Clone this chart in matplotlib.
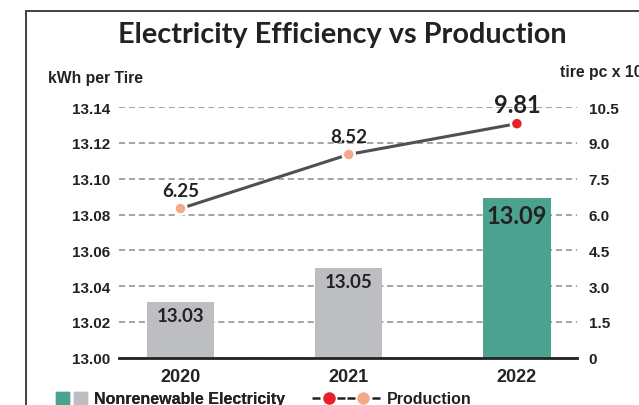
import matplotlib
matplotlib.use("Agg")
import matplotlib.pyplot as plt
from matplotlib.patches import Patch, Rectangle
from matplotlib.lines import Line2D
from matplotlib.legend_handler import HandlerTuple

# data
years = ["2020", "2021", "2022"]
electricity = [13.031, 13.050, 13.089]   # kWh per tire
production = [6.25, 8.52, 9.81]          # tire pc x 1000
bar_colors = ["#BDBEC2", "#BDBEC2", "#4BA38F"]
dot_colors = ["#F4A98A", "#F4A98A", "#E8202A"]
left_ticks = [13.00, 13.02, 13.04, 13.06, 13.08, 13.10, 13.12, 13.14]
right_ticks = [0, 1.5, 3.0, 4.5, 6.0, 7.5, 9.0, 10.5]

arial = "Liberation Sans"
calib = "Lato"
dark = "#222222"

fig = plt.figure(figsize=(6.39, 4.06), dpi=100)
ax = fig.add_axes([0.1862, 0.1165, 0.7167, 0.617])

x = list(range(len(years)))
ax.bar(x, [v - 13.0 for v in electricity], bottom=13.0, width=0.4,
       color=bar_colors, zorder=2)
ax.set_xlim(-0.366, 2.357)
ax.set_ylim(13.00, 13.14)
ax.set_yticks(left_ticks)
ax.set_yticklabels(["%.2f" % t for t in left_ticks], fontfamily=arial,
                   fontweight="bold", fontsize=11, color=dark)
ax.set_xticks(x)
ax.set_xticklabels(years, fontfamily=arial, fontweight="bold", fontsize=13,
                   color=dark)
ax.tick_params(axis="y", length=0, pad=6.5)
ax.tick_params(axis="x", length=0, pad=7.5)
ax.yaxis.grid(True, color="#8C8C8C", linestyle=(0, (4, 2.5)), linewidth=1.1)
ax.set_axisbelow(True)
for s in ["top", "right", "left"]:
    ax.spines[s].set_visible(False)
ax.spines["bottom"].set_linewidth(2.0)
ax.spines["bottom"].set_color(dark)
ax.spines["bottom"].set_zorder(5)

for i, v in enumerate(electricity):
    big = i == len(electricity) - 1
    ax.annotate("%.2f" % v, (i, v), xytext=(0, -12 if big else -9.5),
                textcoords="offset points", ha="center", va="center",
                fontfamily=calib, fontweight="bold",
                fontsize=17 if big else 13.5, color=dark, zorder=6)

ax2 = ax.twinx()
ax2.set_ylim(0, 10.5)
ax2.set_yticks(right_ticks)
ax2.set_yticklabels(["0" if t == 0 else "%.1f" % t for t in right_ticks],
                    fontfamily=arial, fontweight="bold", fontsize=11,
                    color=dark)
ax2.tick_params(axis="y", length=0, pad=8.5)
for s in ax2.spines.values():
    s.set_visible(False)
ax2.plot(x, production, color="#505050", linewidth=2.2, zorder=3)
ax2.scatter(x, production, s=75, c=dot_colors, edgecolors="white",
            linewidths=1.8, zorder=4)
for i, v in enumerate(production):
    big = i == len(production) - 1
    ax2.annotate("%.2f" % v, (i, v), xytext=(0, 14 if big else 13),
                 textcoords="offset points", ha="center", va="center",
                 fontfamily=calib, fontweight="bold",
                 fontsize=17 if big else 13.5, color=dark)

# titles and axis captions
fig.text(342 / 639, 1 - 35 / 406, "Electricity Efficiency vs Production",
         ha="center", va="center", fontfamily=calib, fontweight="bold",
         fontsize=20.8, color=dark)
fig.text(48 / 639, 1 - 78 / 406, "kWh per Tire", ha="left", va="center",
         fontfamily=arial, fontweight="bold", fontsize=11.3, color=dark)
fig.text(560 / 639, 1 - 73 / 406, "tire pc x 1000", ha="left", va="center",
         fontfamily=arial, fontweight="bold", fontsize=11.3, color=dark)

# outer frame
fig.patches.append(Rectangle((26 / 639, -0.1), 2, 1.1 - 12 / 406,
                             transform=fig.transFigure, fill=False,
                             edgecolor="#333333", linewidth=1.3))

# legend: two parts, bars and line
leg_font = {"family": arial, "weight": "bold", "size": 11.5}
bars_h = (Patch(color="#4BA38F"), Patch(color="#BDBEC2"))
leg1 = fig.legend([bars_h], ["Nonrenewable Electricity"],
                  handler_map={tuple: HandlerTuple(ndivide=None, pad=0.3)},
                  loc="center left", bbox_to_anchor=(48 / 639, 6 / 406),
                  frameon=False, handlelength=1.95, handleheight=0.85,
                  handletextpad=0.4, borderpad=0.0, prop=leg_font,
                  labelcolor=dark)
dash = (0, (3.2, 1.8))
line_h = (Line2D([], [], color="#222222", linestyle=dash, linewidth=1.8,
                 marker="o", markersize=8, markerfacecolor="#E8202A",
                 markeredgecolor="#E8202A"),
          Line2D([], [], color="#222222", linestyle=dash, linewidth=1.8,
                 marker="o", markersize=8, markerfacecolor="#F4A98A",
                 markeredgecolor="#F4A98A"))
fig.legend([line_h], ["Production"],
           handler_map={tuple: HandlerTuple(ndivide=None, pad=0.1)},
           loc="center left", bbox_to_anchor=(304 / 639, 6 / 406),
           frameon=False, handlelength=4.25, numpoints=1,
           handletextpad=0.45, borderpad=0.0, prop=leg_font,
           labelcolor=dark)
fig.add_artist(leg1)

fig.savefig("out.png", dpi=100)
